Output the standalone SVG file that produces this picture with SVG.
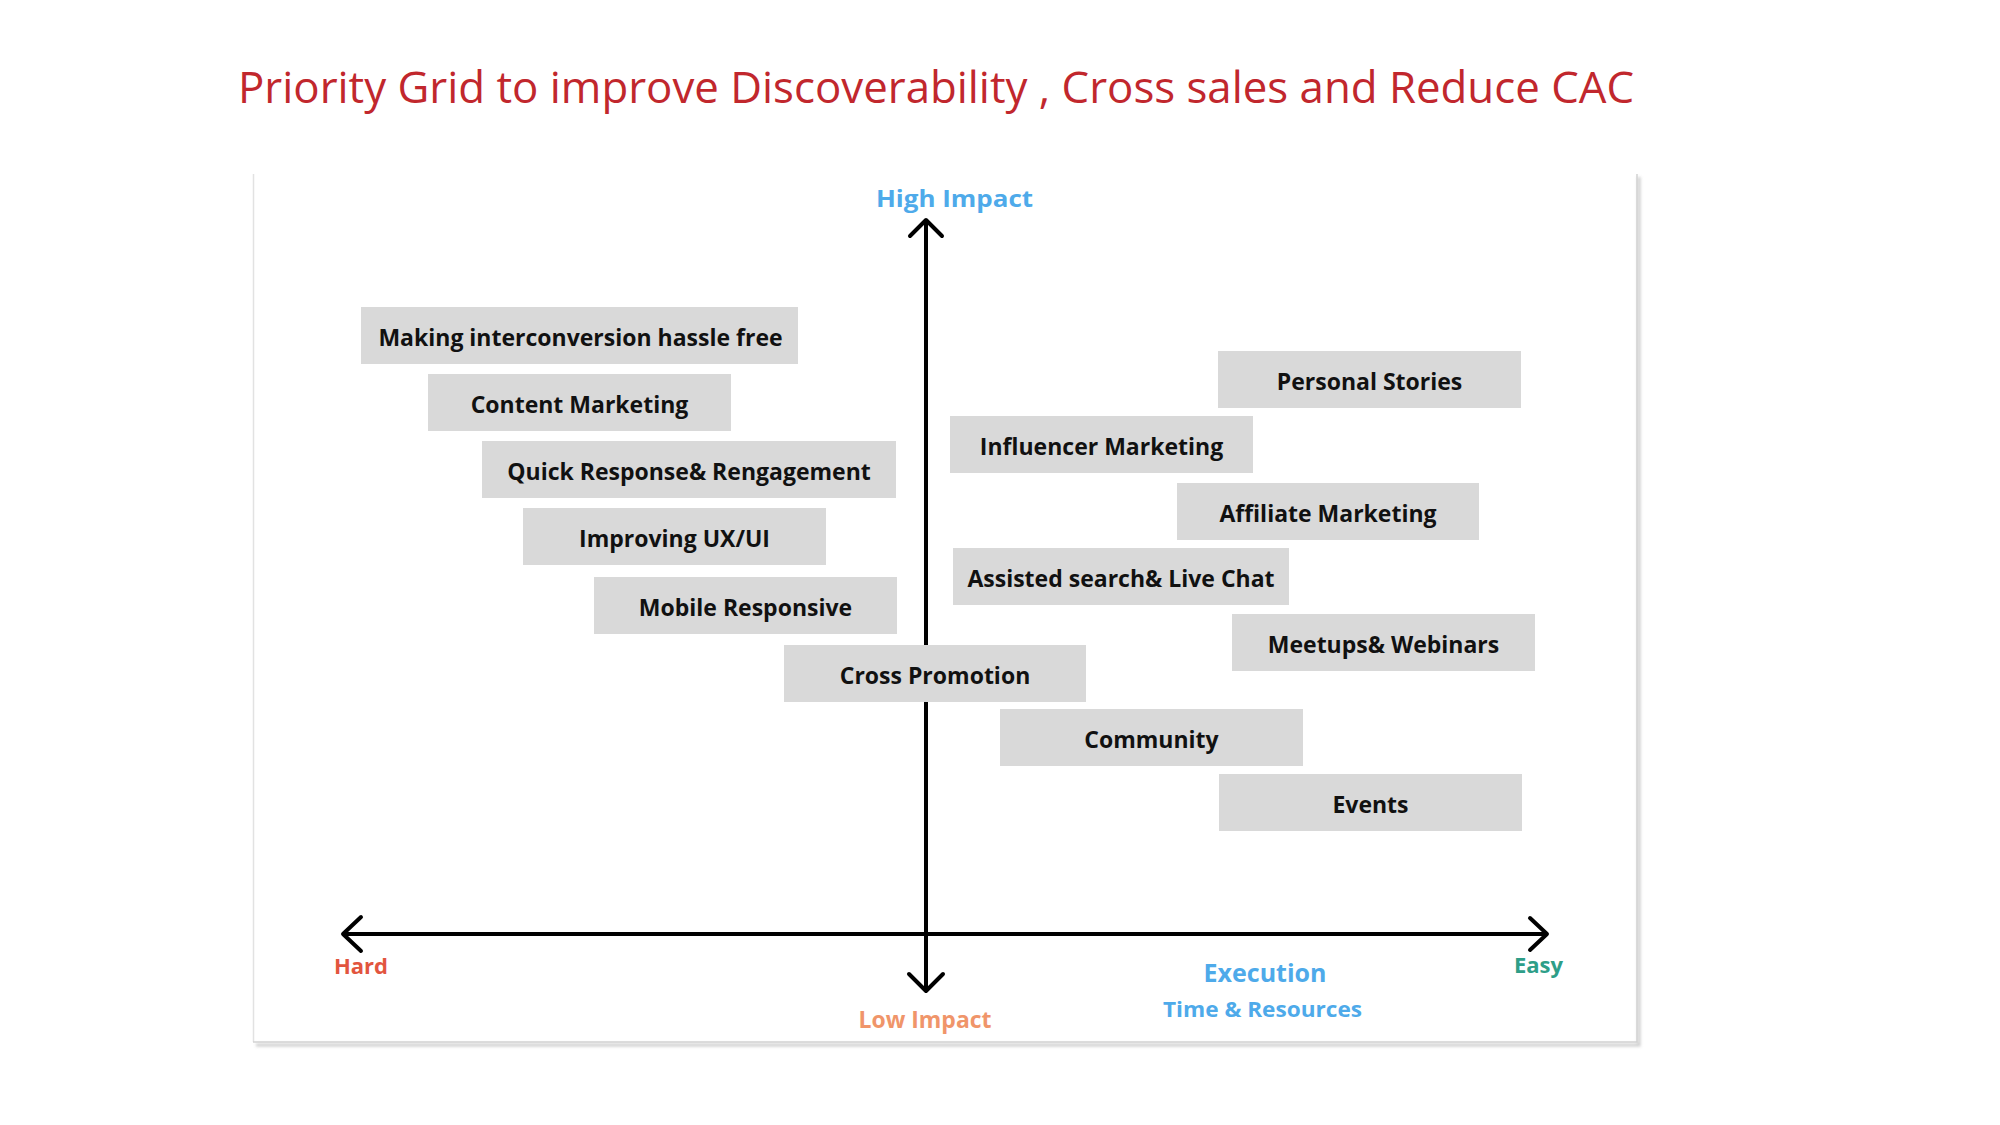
<svg xmlns="http://www.w3.org/2000/svg" width="2000" height="1125" viewBox="0 0 2000 1125">
  <defs>
    <filter id="soft" x="-5%" y="-5%" width="110%" height="110%">
      <feGaussianBlur stdDeviation="1.5"/>
    </filter>
    <style>
      .box { fill: #d9d9d9; }
      .lbl { font-family: "Open Sans", "Noto Sans", "Liberation Sans", sans-serif; font-weight: 700; font-size: 23px; fill: #111111; text-anchor: middle; }
      .ax { font-family: "Open Sans", "Noto Sans", "Liberation Sans", sans-serif; font-weight: 700; }
      .axis { stroke: #000; stroke-width: 4; fill: none; stroke-linecap: round; stroke-linejoin: round; }
    </style>
  </defs>
  <rect width="2000" height="1125" fill="#ffffff"/>

  <text id="title" x="238" y="103" font-family="Open Sans, Noto Sans, Liberation Sans, sans-serif" font-size="44" fill="#c1272d" textLength="1396" lengthAdjust="spacingAndGlyphs">Priority Grid to improve Discoverability , Cross sales and Reduce CAC</text>

  <g id="panel">
    <rect x="253" y="174" width="1384" height="868" fill="#ffffff"/>
    <path d="M1639 177 V1045 H256" stroke="#b5b5b5" stroke-width="3" fill="none" filter="url(#soft)" opacity="0.7"/>
    <path d="M253.5 174 V1042" stroke="#e2e2e2" stroke-width="1.5" fill="none"/>
    <path d="M1637 174 V1042 H253" stroke="#d2d2d2" stroke-width="1.5" fill="none"/>
  </g>

  <g id="connectors">
    <line class="axis" x1="926" y1="221" x2="926" y2="990"/>
    <polyline class="axis" points="910,236 926,220 942,236"/>
    <polyline class="axis" points="909,974 926,991 943,974"/>
    <line class="axis" x1="344" y1="934" x2="1546" y2="934"/>
    <polyline class="axis" points="361,917 343,934 361,951"/>
    <polyline class="axis" points="1530,918 1547,934 1530,950"/>
  </g>

  <g id="axis-labels">
    <text class="ax" x="954.5" y="207" font-size="24" fill="#4eaaea" text-anchor="middle" textLength="157" lengthAdjust="spacingAndGlyphs">High Impact</text>
    <text class="ax" x="925" y="1028" font-size="23" fill="#f0956a" text-anchor="middle" textLength="133" lengthAdjust="spacingAndGlyphs">Low Impact</text>
    <text class="ax" x="334" y="974" font-size="22" fill="#e2553e">Hard</text>
    <text class="ax" x="1514" y="973" font-size="22" fill="#2e9e88">Easy</text>
    <text class="ax" x="1265" y="982" font-size="25" fill="#4eaaea" text-anchor="middle">Execution</text>
    <text class="ax" x="1262.5" y="1017" font-size="22" fill="#4eaaea" text-anchor="middle" textLength="199" lengthAdjust="spacingAndGlyphs">Time &amp; Resources</text>
  </g>

  <g id="n-making">
    <rect class="box" x="361" y="307" width="437" height="57"/>
    <text class="lbl" x="580.5" y="346">Making interconversion hassle free</text>
  </g>
  <g id="n-content">
    <rect class="box" x="428" y="374" width="303" height="57"/>
    <text class="lbl" x="579.5" y="413">Content Marketing</text>
  </g>
  <g id="n-quick">
    <rect class="box" x="482" y="441" width="414" height="57"/>
    <text class="lbl" x="689" y="480">Quick Response&amp; Rengagement</text>
  </g>
  <g id="n-uxui">
    <rect class="box" x="523" y="508" width="303" height="57"/>
    <text class="lbl" x="674.5" y="547">Improving UX/UI</text>
  </g>
  <g id="n-mobile">
    <rect class="box" x="594" y="577" width="303" height="57"/>
    <text class="lbl" x="745.5" y="616">Mobile Responsive</text>
  </g>
  <g id="n-cross">
    <rect class="box" x="784" y="645" width="302" height="57"/>
    <text class="lbl" x="935" y="684">Cross Promotion</text>
  </g>
  <g id="n-personal">
    <rect class="box" x="1218" y="351" width="303" height="57"/>
    <text class="lbl" x="1369.5" y="390">Personal Stories</text>
  </g>
  <g id="n-influencer">
    <rect class="box" x="950" y="416" width="303" height="57"/>
    <text class="lbl" x="1101.5" y="455">Influencer Marketing</text>
  </g>
  <g id="n-affiliate">
    <rect class="box" x="1177" y="483" width="302" height="57"/>
    <text class="lbl" x="1328" y="522">Affiliate Marketing</text>
  </g>
  <g id="n-assisted">
    <rect class="box" x="953" y="548" width="336" height="57"/>
    <text class="lbl" x="1121" y="587">Assisted search&amp; Live Chat</text>
  </g>
  <g id="n-meetups">
    <rect class="box" x="1232" y="614" width="303" height="57"/>
    <text class="lbl" x="1383.5" y="653">Meetups&amp; Webinars</text>
  </g>
  <g id="n-community">
    <rect class="box" x="1000" y="709" width="303" height="57"/>
    <text class="lbl" x="1151.5" y="748">Community</text>
  </g>
  <g id="n-events">
    <rect class="box" x="1219" y="774" width="303" height="57"/>
    <text class="lbl" x="1370.5" y="813">Events</text>
  </g>
</svg>
